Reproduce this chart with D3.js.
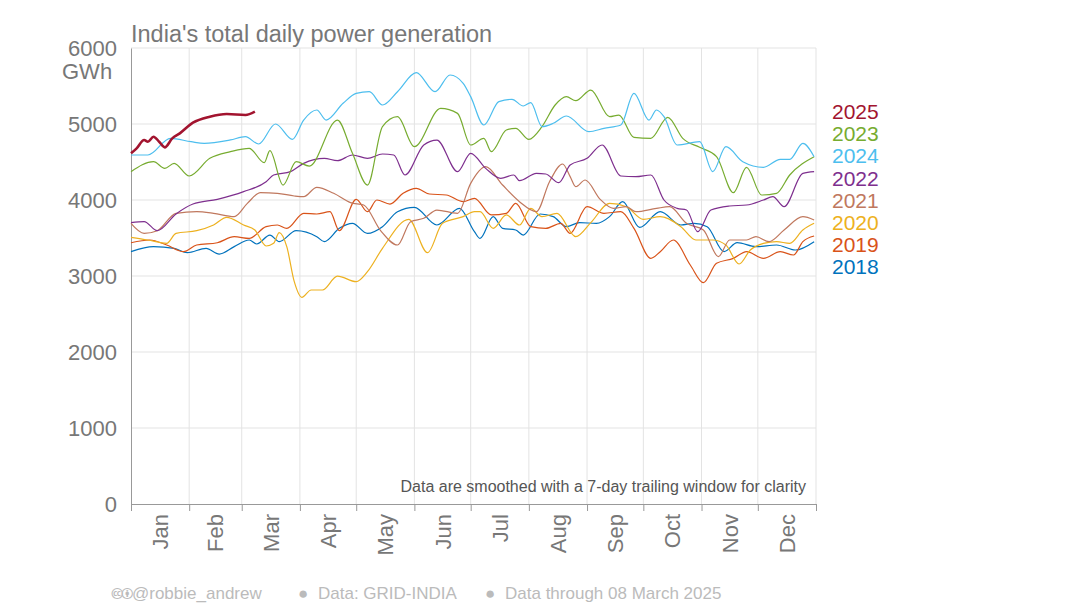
<!DOCTYPE html>
<html><head><meta charset="utf-8">
<script src="https://cdn.jsdelivr.net/npm/d3@7"></script>
<style>body{margin:0;background:#fff}text{font-family:Arial,"Liberation Sans",sans-serif}</style>
</head><body><svg id="chart" width="1080" height="607"></svg>
<script>
// [day of year, GWh]
const s2018 = [[0,3320],[12,3386],[23,3364],[30,3307],[40,3364],[47,3289],[55,3386],[63,3474],[67,3421],[74,3539],[79,3452],[88,3596],[99,3517],[103,3452],[111,3627],[118,3693],[126,3561],[134,3649],[142,3846],[151,3903],[163,3671],[175,3890],[183,3583],[186,3495],[193,3781],[198,3627],[205,3605],[209,3539],[218,3816],[225,3781],[232,3649],[239,3702],[248,3693],[255,3781],[262,3978],[271,3640],[282,3846],[293,3671],[300,3693],[307,3649],[316,3320],[323,3438],[333,3386],[344,3408],[354,3342],[364,3452]];
const s2019 = [[0,3438],[10,3474],[19,3408],[28,3320],[35,3408],[46,3438],[55,3517],[63,3495],[72,3649],[78,3671],[83,3627],[92,3825],[99,3816],[106,3846],[111,3596],[120,4009],[126,3846],[131,4000],[138,3947],[145,4088],[152,4153],[159,4079],[168,4066],[177,3978],[183,4022],[192,3803],[200,3825],[205,3956],[213,3649],[221,3627],[229,3693],[234,3561],[243,3912],[252,3825],[261,3846],[268,3627],[277,3232],[282,3320],[289,3474],[298,3145],[305,2912],[312,3167],[321,3232],[328,3320],[337,3232],[346,3320],[353,3276],[358,3452],[364,3526]];
const s2020 = [[0,3509],[9,3474],[19,3430],[24,3561],[35,3596],[44,3671],[51,3772],[60,3671],[66,3605],[72,3395],[76,3430],[79,3570],[83,3386],[87,2925],[91,2719],[96,2816],[102,2816],[110,2999],[120,2925],[126,3057],[134,3364],[148,3745],[158,3307],[166,3693],[177,3781],[183,3846],[186,3846],[193,3627],[200,3803],[207,3671],[213,3890],[219,3781],[227,3825],[237,3517],[245,3702],[255,3956],[264,3912],[273,3745],[282,3781],[293,3649],[301,3474],[310,3474],[317,3408],[324,3158],[330,3342],[337,3430],[344,3452],[351,3430],[358,3605],[364,3693]];
const s2021 = [[0,3693],[7,3561],[14,3596],[24,3825],[35,3846],[44,3825],[55,3781],[62,3956],[69,4096],[78,4088],[87,4053],[92,4044],[99,4167],[108,4088],[117,3965],[124,3934],[133,3596],[142,3408],[149,3715],[156,3759],[163,3868],[174,3825],[181,4219],[189,4438],[198,4197],[207,3978],[216,3846],[223,4241],[230,4474],[234,4307],[237,4175],[242,4263],[250,4009],[257,3890],[264,3912],[269,3846],[280,3890],[287,3912],[296,3693],[305,3605],[313,3254],[319,3474],[328,3474],[333,3517],[340,3452],[348,3605],[358,3781],[364,3737]];
const s2022 = [[0,3702],[7,3715],[14,3596],[24,3816],[33,3947],[46,4009],[60,4110],[72,4241],[76,4329],[85,4373],[92,4482],[103,4548],[110,4517],[118,4592],[126,4548],[134,4605],[140,4592],[146,4329],[156,4724],[163,4789],[174,4373],[181,4614],[189,4416],[197,4285],[204,4329],[207,4254],[216,4351],[221,4342],[228,4228],[234,4460],[243,4548],[251,4724],[261,4316],[269,4307],[277,4329],[284,4000],[291,3890],[296,3868],[302,3583],[309,3868],[319,3921],[328,3934],[337,4000],[342,4044],[348,3912],[358,4351],[364,4373]];
const s2023 = [[0,4373],[12,4504],[18,4416],[23,4482],[31,4316],[42,4548],[53,4636],[63,4680],[71,4491],[74,4649],[81,4197],[88,4504],[95,4447],[110,5052],[118,4614],[126,4197],[134,4965],[142,5096],[151,4702],[165,5206],[174,5140],[181,4724],[188,4811],[192,4636],[200,4921],[205,4943],[212,4798],[219,4965],[226,5250],[232,5360],[237,5307],[245,5447],[255,5096],[260,5118],[268,4824],[277,4811],[286,5088],[294,4811],[303,4693],[312,4570],[321,4096],[328,4430],[336,4066],[344,4088],[351,4329],[364,4570]];
const s2024 = [[0,4592],[9,4592],[21,4811],[32,4767],[39,4745],[53,4790],[61,4833],[68,4737],[77,5000],[86,4798],[92,5052],[99,5184],[104,5052],[113,5272],[120,5403],[127,5425],[134,5250],[142,5425],[152,5675],[162,5425],[170,5645],[177,5535],[181,5360],[188,4987],[196,5294],[203,5325],[209,5237],[213,5281],[219,4965],[225,5009],[232,5105],[244,4899],[252,4943],[261,4987],[268,5403],[276,5052],[280,5184],[284,5096],[291,4724],[303,4767],[310,4373],[317,4702],[326,4504],[337,4430],[346,4535],[351,4535],[358,4745],[364,4570]];
const s2025 = [[0,4614],[3,4680],[7,4789],[9,4767],[12,4833],[15,4767],[18,4693],[22,4811],[26,4877],[33,5017],[42,5096],[51,5131],[61,5118],[66,5162]];

const years = ["2025","2023","2024","2022","2021","2020","2019","2018"];
const seriesByYear = {"2018":s2018,"2019":s2019,"2020":s2020,"2021":s2021,"2022":s2022,"2023":s2023,"2024":s2024,"2025":s2025};
const colors = {"2025":"#a2142f","2023":"#77ac30","2024":"#4dbeee","2022":"#7e2f8e","2021":"#c0785e","2020":"#edb120","2019":"#d95319","2018":"#0072bd"};
const months = ["Jan","Feb","Mar","Apr","May","Jun","Jul","Aug","Sep","Oct","Nov","Dec"];
const monthStarts = [0,31,59,90,120,151,181,212,243,273,304,334,365];
const yTicks = [0,1000,2000,3000,4000,5000,6000];
const footer = [["🅭🅯@robbie_andrew",112],["●",298],["Data: GRID-INDIA",318],["●",485],["Data through 08 March 2025",505]];

const svg = d3.select("#chart");
const L = 131, R = 816, T = 48, B = 504;
const x = d3.scaleLinear().domain([0,365]).range([L,R]);
const y = d3.scaleLinear().domain([0,6000]).range([B,T]);
const grey = "#777";

// grid
svg.append("g").selectAll("line").data(yTicks.slice(1)).join("line")
  .attr("x1",L).attr("x2",R).attr("y1",d=>y(d)).attr("y2",d=>y(d))
  .attr("stroke","#e3e3e3");
svg.append("g").selectAll("line").data(monthStarts.slice(1)).join("line")
  .attr("x1",d=>x(d)).attr("x2",d=>x(d)).attr("y1",T).attr("y2",B)
  .attr("stroke","#e3e3e3");

// axes
const yAxis = svg.append("g").attr("transform",`translate(${L},0)`)
  .call(d3.axisLeft(y).tickValues(yTicks).tickSize(0).tickPadding(14).tickFormat(d3.format("d")));
yAxis.select(".domain").attr("stroke","#999");
yAxis.selectAll("text").attr("fill",grey).attr("font-size",22);

const xAxis = svg.append("g").attr("transform",`translate(0,${B})`)
  .call(d3.axisBottom(x).tickValues(monthStarts).tickSize(7).tickFormat(""));
xAxis.select(".domain").attr("stroke","#999");
xAxis.selectAll("line").attr("stroke","#999");

svg.append("g").selectAll("text").data(months).join("text")
  .attr("transform",(d,i)=>`translate(${x((monthStarts[i]+monthStarts[i+1])/2)+8},514) rotate(-90)`)
  .attr("text-anchor","end").attr("fill",grey).attr("font-size",22).text(d=>d);

// lines
const line = d3.line().x(d=>x(d[0])).y(d=>y(d[1])).curve(d3.curveMonotoneX);
["2018","2019","2020","2021","2022","2023","2024","2025"].forEach(yr=>{
  svg.append("path").datum(seriesByYear[yr]).attr("d",line)
    .attr("fill","none").attr("stroke",colors[yr])
    .attr("stroke-width", yr==="2025" ? 2.6 : 1.2);
});

// legend
svg.append("g").selectAll("text").data(years).join("text")
  .attr("x",832).attr("y",(d,i)=>119+i*22.2)
  .attr("fill",d=>colors[d]).attr("font-size",21).text(d=>d);

// titles
svg.append("text").attr("x",131).attr("y",42).attr("fill",grey).attr("font-size",23.5)
  .text("India's total daily power generation");
svg.append("text").attr("x",62).attr("y",79).attr("fill",grey).attr("font-size",22).text("GWh");
svg.append("text").attr("x",806).attr("y",492).attr("text-anchor","end").attr("fill","#555")
  .attr("font-size",16).text("Data are smoothed with a 7-day trailing window for clarity");
svg.append("g").selectAll("text").data(footer).join("text")
  .attr("x",d=>d[1]).attr("y",599).attr("fill","#bbb").attr("font-size",17).text(d=>d[0]);
</script></body></html>
